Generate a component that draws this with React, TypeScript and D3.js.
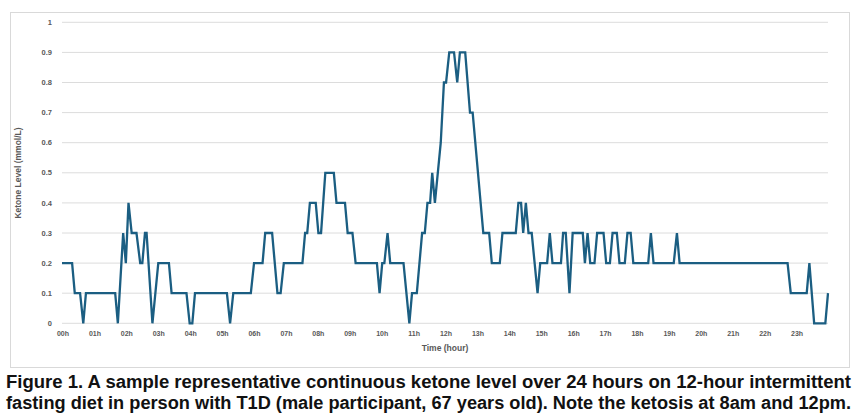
import React from "react";
import * as d3 from "d3";

// Time in minutes from 00h, ketone level in mmol/L (breakpoints of the trace)
const timeMin: number[] = [
  0, 19, 24, 34, 40, 45, 100, 105, 115, 120, 125, 131, 140, 147, 151, 156, 159, 170, 181, 201,
  206, 234, 240, 245, 250, 310, 316, 322, 355, 361, 377, 382, 395, 405, 411, 417, 452, 457, 461, 466,
  477, 482, 487, 495, 511, 516, 532, 537, 546, 552, 592, 597, 602, 606, 612, 617, 642, 653, 658, 667,
  677, 682, 687, 692, 696, 701, 712, 718, 722, 728, 737, 743, 748, 758, 767, 772, 792, 803, 808, 823,
  828, 853, 858, 863, 867, 872, 877, 883, 894, 899, 912, 917, 922, 938, 942, 947, 954, 960, 979, 983,
  988, 993, 1001, 1006, 1018, 1023, 1030, 1035, 1043, 1048, 1058, 1063, 1069, 1074, 1102, 1107, 1112, 1150, 1156, 1161,
  1364, 1370, 1400, 1405, 1414, 1435, 1440,
];
const ketone: number[] = [
  0.2, 0.2, 0.1, 0.1, 0, 0.1, 0.1, 0, 0.3, 0.2, 0.4, 0.3, 0.3, 0.2, 0.2, 0.3, 0.3, 0, 0.2, 0.2,
  0.1, 0.1, 0, 0, 0.1, 0.1, 0, 0.1, 0.1, 0.2, 0.2, 0.3, 0.3, 0.1, 0.1, 0.2, 0.2, 0.3, 0.3, 0.4,
  0.4, 0.3, 0.3, 0.5, 0.5, 0.4, 0.4, 0.3, 0.3, 0.2, 0.2, 0.1, 0.2, 0.2, 0.3, 0.2, 0.2, 0, 0.1, 0.1,
  0.3, 0.3, 0.4, 0.4, 0.5, 0.4, 0.6, 0.8, 0.8, 0.9, 0.9, 0.8, 0.9, 0.9, 0.7, 0.7, 0.3, 0.3, 0.2, 0.2,
  0.3, 0.3, 0.4, 0.4, 0.3, 0.4, 0.3, 0.3, 0.1, 0.2, 0.2, 0.3, 0.2, 0.2, 0.3, 0.3, 0.1, 0.3, 0.3, 0.2,
  0.3, 0.2, 0.2, 0.3, 0.3, 0.2, 0.2, 0.3, 0.3, 0.2, 0.2, 0.3, 0.3, 0.2, 0.2, 0.3, 0.2, 0.2, 0.3, 0.2,
  0.2, 0.1, 0.1, 0.2, 0, 0, 0.1,
];
const hourLabels: string[] = [
  "00h", "01h", "02h", "03h", "04h", "05h", "06h", "07h", "08h", "09h", "10h", "11h",
  "12h", "13h", "14h", "15h", "16h", "17h", "18h", "19h", "20h", "21h", "22h", "23h",
];
const yTicks: number[] = [0, 0.1, 0.2, 0.3, 0.4, 0.5, 0.6, 0.7, 0.8, 0.9, 1];
const yTitle = "Ketone Level (mmol/L)";
const xTitle = "Time (hour)";
const caption: string[] = [
  "Figure 1. A sample representative continuous ketone level over 24 hours on 12-hour intermittent",
  "fasting diet in person with T1D (male participant, 67 years old). Note the ketosis at 8am and 12pm.",
];

export default function App() {
  const W = 860;
  const H = 418;
  const x = d3.scaleLinear().domain([0, 1440]).range([62, 828]);
  const y = d3.scaleLinear().domain([0, 1]).range([323.3, 22.3]);
  const pts: [number, number][] = timeMin.map((t, i) => [t, ketone[i]]);
  const line = d3
    .line<[number, number]>()
    .x((d) => x(d[0]))
    .y((d) => y(d[1]));
  const tickFont = "'Liberation Sans', Arial, sans-serif";
  return (
    <svg
      width={W}
      height={H}
      style={{ position: "absolute", left: 0, top: 0, background: "#fff" }}
    >
      <rect x={0} y={0} width={W} height={H} fill="#fff" />
      <rect x={10.5} y={12.5} width={839} height={355} fill="none" stroke="#d9d9d9" strokeWidth={1} />
      {yTicks.map((t) => (
        <g key={t}>
          <line x1={x(0)} x2={x(1440)} y1={y(t)} y2={y(t)} stroke="#dcdcdc" strokeWidth={1} />
          <text
            x={52}
            y={y(t)}
            dy="0.35em"
            textAnchor="end"
            fontSize={7.5}
            fontWeight={700}
            fill="#595959"
            fontFamily={tickFont}
          >
            {d3.format("~g")(t)}
          </text>
        </g>
      ))}
      {hourLabels.map((lab, i) => (
        <text
          key={lab}
          x={x(i * 60) + 1}
          y={336}
          textAnchor="middle"
          fontSize={7}
          fontWeight={700}
          fill="#595959"
          fontFamily={tickFont}
        >
          {lab}
        </text>
      ))}
      <text
        x={445}
        y={351}
        textAnchor="middle"
        fontSize={8.5}
        fontWeight={700}
        fill="#595959"
        fontFamily={tickFont}
      >
        {xTitle}
      </text>
      <text
        transform={`translate(21,173) rotate(-90)`}
        textAnchor="middle"
        fontSize={8.5}
        fontWeight={700}
        fill="#595959"
        fontFamily={tickFont}
      >
        {yTitle}
      </text>
      <path
        d={line(pts) || ""}
        fill="none"
        stroke="#1b5e82"
        strokeWidth={2.3}
        strokeLinejoin="miter"
        strokeMiterlimit={4}
      />
      {caption.map((c, i) => (
        <text
          key={i}
          x={6}
          y={388 + i * 20.5}
          fontSize={18}
          fontWeight={700}
          fill="#111"
          fontFamily="'Liberation Sans Narrow', 'Arial Narrow', 'Liberation Sans', Arial, sans-serif"
          textLength={845}
          lengthAdjust="spacingAndGlyphs"
        >
          {c}
        </text>
      ))}
    </svg>
  );
}
